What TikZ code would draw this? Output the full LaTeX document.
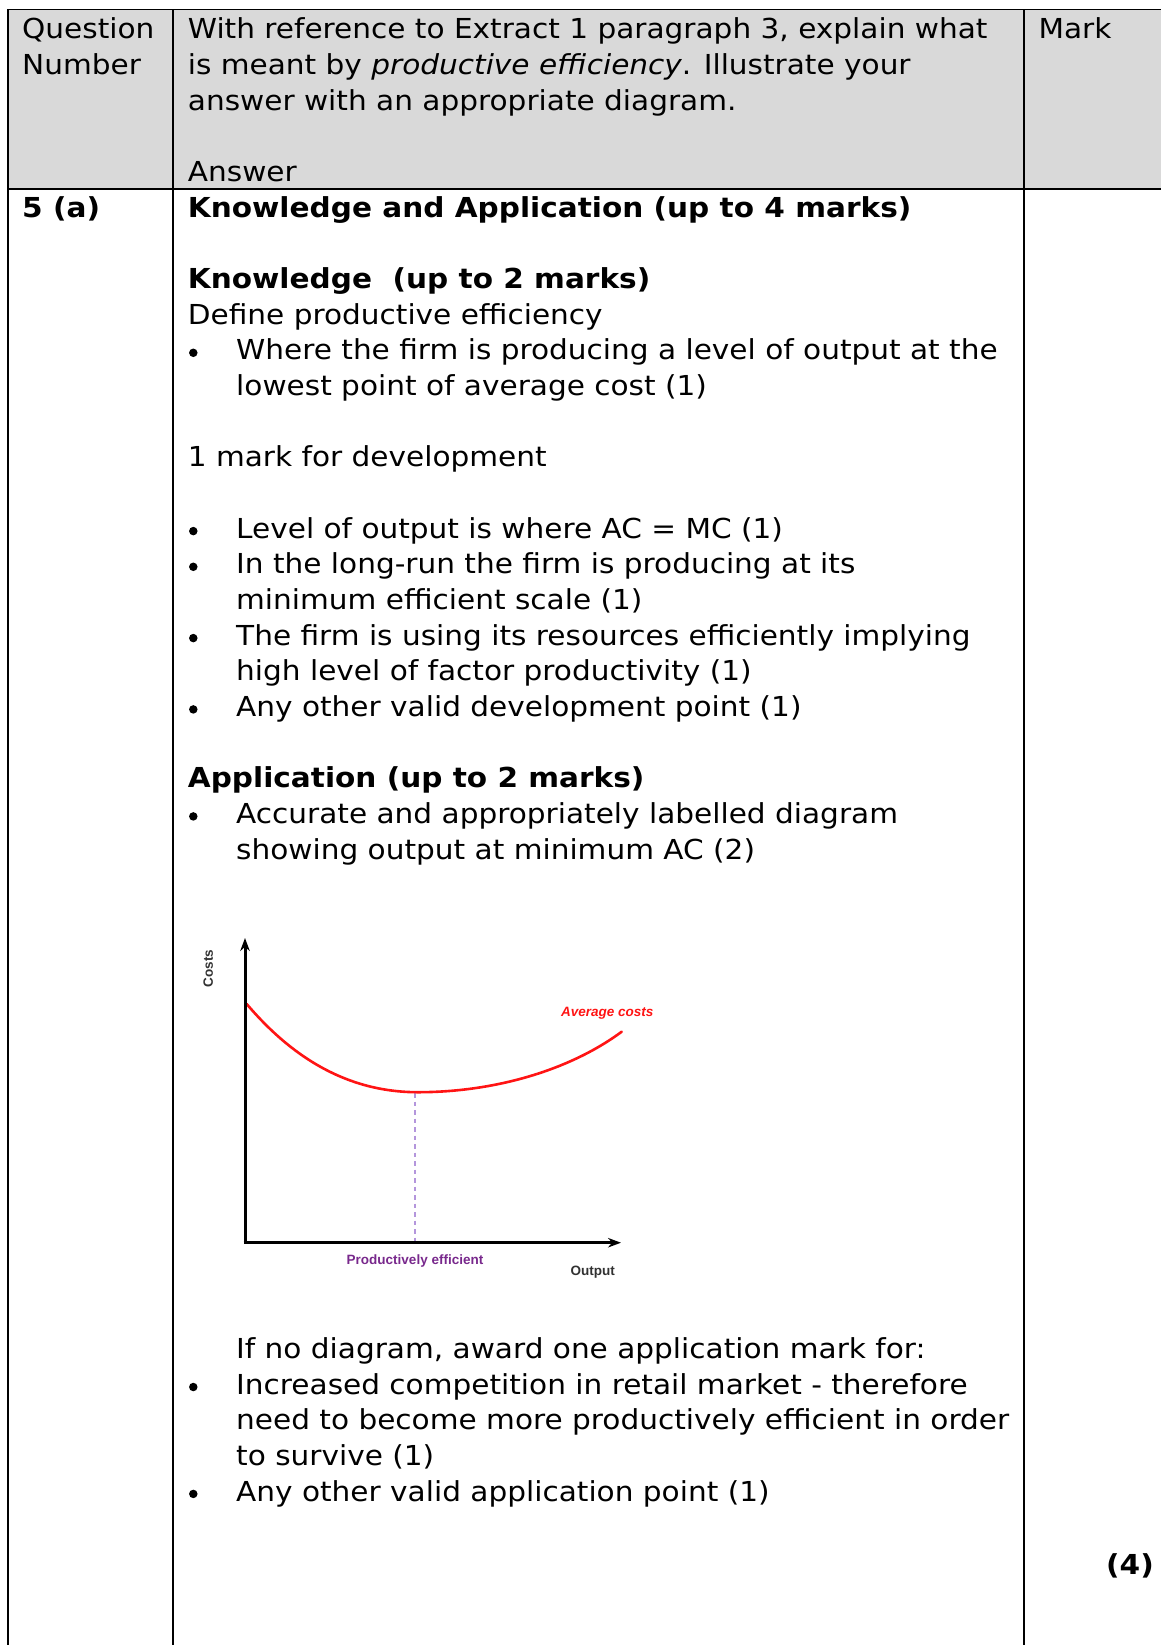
\documentclass[tikz,border=0pt]{standalone}
\usepackage{fontspec}
\setmainfont{DejaVu Sans}[FakeStretch=1.075]
\newfontfamily\diagfont{Liberation Sans}
\usetikzlibrary{arrows.meta}
\definecolor{hdrgray}{RGB}{217,217,217}
\definecolor{acred}{RGB}{255,20,20}
\definecolor{pepurple}{RGB}{120,40,140}
\definecolor{dashpurple}{RGB}{180,150,220}
\definecolor{axgray}{RGB}{50,50,50}
\newcommand\bodysize{\fontsize{27.5}{33}\selectfont}
\newcommand\diagsize{\fontsize{13.5}{16}\selectfont}
\tikzset{
  txt/.style={anchor=base west, inner sep=0pt, font=\bodysize},
  bld/.style={anchor=base west, inner sep=0pt, font=\bodysize\bfseries},
  bul/.style={circle, fill=black, inner sep=0pt, minimum size=8.5pt},
  thinrule/.style={line width=1.5pt, black},
  thickrule/.style={line width=2.3pt, black},
  axisline/.style={line width=3pt, black, -{Stealth[length=13pt,width=9.5pt]}},
  dlabel/.style={inner sep=0pt, font=\diagfont\diagsize\bfseries},
}
\begin{document}
\begin{tikzpicture}[x=1pt,y=-1pt]
\useasboundingbox (0,0) rectangle (1161,1645);
% header background
\fill[hdrgray] (8,9.5) rectangle (1161,189);
% table rules
\draw[thinrule] (8,9.5) -- (1161,9.5);
\draw[thinrule] (8,9.5) -- (8,189);
\draw[thinrule] (172.8,9.5) -- (172.8,189);
\draw[thinrule] (1024,9.5) -- (1024,189);
\draw[thickrule] (7,189) -- (1161,189);
\draw[thickrule] (8,189) -- (8,1645);
\draw[thickrule] (172.8,189) -- (172.8,1645);
\draw[thickrule] (1024,189) -- (1024,1645);

% header text
\node[txt] (q1) at (22,39) {Question};
\node[txt] (q2) at (22,74.66) {Number};
\node[txt] (h1) at (187.7,39) {With reference to Extract 1 paragraph 3, explain what};
\node[txt] (h2) at (187.7,74.66) {is meant by \textit{productive efficiency}. Illustrate your};
\node[txt] (h3) at (187.7,110.32) {answer with an appropriate diagram.};
\node[txt] (h4) at (187.7,181.64) {Answer};
\node[txt] (mk) at (1038.3,39) {Mark};

% body text
\node[bld] (qn) at (22,217.3) {5 (a)};
\node[bld] (b1) at (187.7,217.3) {Knowledge and Application (up to 4 marks)};
\node[bld] (b2) at (187.7,288.62) {Knowledge\ \ (up to 2 marks)};
\node[txt] (b3) at (187.7,324.28) {Define productive efficiency};
\node[bul] (u1) at (193.3,352.8) {};
\node[txt] (b4) at (236,359.94) {Where the firm is producing a level of output at the};
\node[txt] (b5) at (236,395.6) {lowest point of average cost (1)};
\node[txt] (b6) at (187.7,466.92) {1 mark for development};
\node[bul] (u2) at (193.3,531.1) {};
\node[txt] (b7) at (236,538.24) {Level of output is where AC = MC (1)};
\node[bul] (u3) at (193.3,566.8) {};
\node[txt] (b8) at (236,573.9) {In the long-run the firm is producing at its};
\node[txt] (b9) at (236,609.56) {minimum efficient scale (1)};
\node[bul] (u4) at (193.3,638.1) {};
\node[txt] (b10) at (236,645.22) {The firm is using its resources efficiently implying};
\node[txt] (b11) at (236,680.88) {high level of factor productivity (1)};
\node[bul] (u5) at (193.3,709.4) {};
\node[txt] (b12) at (236,716.54) {Any other valid development point (1)};
\node[bld] (b13) at (187.7,787.86) {Application (up to 2 marks)};
\node[bul] (u6) at (193.3,816.4) {};
\node[txt] (b14) at (236,823.52) {Accurate and appropriately labelled diagram};
\node[txt] (b15) at (236,859.18) {showing output at minimum AC (2)};

\node[txt] (b16) at (236,1358.42) {If no diagram, award one application mark for:};
\node[bul] (u7) at (193.3,1387.0) {};
\node[txt] (b17) at (236,1394.08) {Increased competition in retail market - therefore};
\node[txt] (b18) at (236,1429.74) {need to become more productively efficient in order};
\node[txt] (b19) at (236,1465.4) {to survive (1)};
\node[bul] (u8) at (193.3,1493.9) {};
\node[txt] (b20) at (236,1501.06) {Any other valid application point (1)};
\node[bld, anchor=base east] (tot) at (1154,1574) {(4)};

% diagram
\coordinate (O) at (245,1242.7);
\coordinate (ytop) at (245,938);
\coordinate (xend) at (621,1242.7);
\coordinate (acs) at (246.7,1004);
\coordinate (acm) at (418,1092.2);
\coordinate (ace) at (621.7,1031.7);
\coordinate (pe) at (415.3,1093);
\draw[dashpurple, line width=1.8pt, dash pattern=on 4.5pt off 4pt] (pe) -- (pe |- O);
\draw[acred, line width=2.6pt, line cap=round]
  (acs) .. controls (290,1055) and (345,1092.2) .. (acm)
        .. controls (495,1092.2) and (570,1070) .. (ace);
\draw[axisline] (O) -- (ytop);
\draw[axisline] ([xshift=-1.5pt]O) -- (xend);
\node[dlabel, text=axgray, rotate=90] (costs) at (208.3,968.3) {Costs};
\node[dlabel, text=acred, font=\diagfont\diagsize\bfseries\itshape] (avc) at (607.3,1013.3) {Average costs};
\node[dlabel, text=pepurple] (prod) at (415,1260.7) {Productively efficient};
\node[dlabel, text=axgray] (outp) at (592.7,1272.3) {Output};
\end{tikzpicture}
\end{document}
